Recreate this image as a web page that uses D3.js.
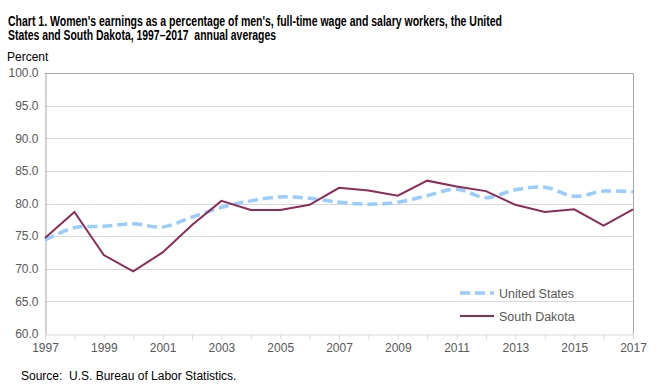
<!DOCTYPE html>
<html>
<head>
<meta charset="utf-8">
<script src="https://cdn.jsdelivr.net/npm/d3@7"></script>
<style>
  body { margin: 0; background: #fff; }
  svg { display: block; font-family: Arial, "Liberation Sans", sans-serif; }
  text { white-space: pre; }
</style>
</head>
<body>
<div id="chart"></div>
<script>
const years = d3.range(1997, 2018);
const unitedStates = [74.4, 76.3, 76.5, 76.9, 76.4, 77.9, 79.4, 80.4, 81.0, 80.8, 80.2,
  79.9, 80.2, 81.2, 82.2, 80.9, 82.1, 82.5, 81.1, 81.9, 81.8];
const southDakota = [74.7, 78.7, 72.1, 69.6, 72.5, 76.7, 80.4, 79.0, 79.0, 79.8, 82.4,
  82.0, 81.2, 83.5, 82.6, 81.9, 79.8, 78.7, 79.1, 76.6, 79.1];
const yTicks = [60, 65, 70, 75, 80, 85, 90, 95, 100];
const xLabels = [1997, 1999, 2001, 2003, 2005, 2007, 2009, 2011, 2013, 2015, 2017];

const width = 664;
const height = 392;
const margin = { top: 73, right: 31, bottom: 58, left: 45 };

const svg = d3.select("#chart").append("svg")
  .attr("width", width)
  .attr("height", height);

// Title: narrow bold face, done by squeezing horizontally
const titleScale = 0.75;
const title = svg.append("text")
  .attr("transform", `translate(8,26) scale(${titleScale},1)`)
  .attr("font-size", 14)
  .attr("font-weight", "bold")
  .attr("fill", "#000");
title.append("tspan").attr("x", 0).attr("y", 0)
  .attr("textLength", 494 / titleScale).attr("lengthAdjust", "spacingAndGlyphs")
  .text("Chart 1. Women's earnings as a percentage of men's, full-time wage and salary workers, the United");
title.append("tspan").attr("x", 0).attr("y", 14.5)
  .attr("textLength", 268 / titleScale).attr("lengthAdjust", "spacingAndGlyphs")
  .text("States and South Dakota, 1997\u20132017  annual averages");

svg.append("text")
  .attr("x", 7)
  .attr("y", 61)
  .attr("font-size", 12)
  .attr("fill", "#000")
  .text("Percent");

// Scales
const x = d3.scaleLinear()
  .domain([1997, 2017])
  .range([margin.left, width - margin.right]);

const y = d3.scaleLinear()
  .domain([60, 100])
  .range([height - margin.bottom, margin.top]);

// Gridlines
svg.append("g")
  .selectAll("line")
  .data(yTicks.slice(1, -1))
  .join("line")
  .attr("x1", margin.left)
  .attr("x2", width - margin.right)
  .attr("y1", d => Math.round(y(d)) + 0.5)
  .attr("y2", d => Math.round(y(d)) + 0.5)
  .attr("stroke", "#d9d9d9");

// Frame (top and right)
svg.append("path")
  .attr("d", `M${margin.left},${Math.round(y(100)) + 0.5}H${Math.round(x(2017)) + 0.5}V${Math.round(y(60))}`)
  .attr("fill", "none")
  .attr("stroke", "#a6a6a6");

// Y axis
const yAxis = svg.append("g")
  .attr("transform", `translate(${margin.left + 0.5},0)`)
  .call(d3.axisLeft(y).tickValues(yTicks).tickFormat(d3.format(".1f")).tickSize(0).tickPadding(7));
yAxis.select(".domain").attr("stroke", "#a6a6a6");
yAxis.selectAll("text").attr("font-size", 12).attr("fill", "#595959")
  .attr("font-family", "Arial, 'Liberation Sans', sans-serif");

// X axis
const xAxis = svg.append("g")
  .attr("transform", `translate(0,${Math.round(y(60)) + 0.5})`)
  .call(d3.axisBottom(x).tickValues(years).tickSize(5).tickPadding(4)
    .tickFormat(d => xLabels.includes(d) ? d : ""));
xAxis.select(".domain").attr("stroke", "#d9d9d9");
xAxis.selectAll(".tick line").attr("stroke", "#d9d9d9");
xAxis.selectAll("text").attr("font-size", 12).attr("fill", "#595959")
  .attr("font-family", "Arial, 'Liberation Sans', sans-serif");

// Lines
const usLine = d3.line()
  .x((d, i) => x(years[i]))
  .y(d => y(d))
  .curve(d3.curveCatmullRom.alpha(0.5));

const sdLine = d3.line()
  .x((d, i) => x(years[i]))
  .y(d => y(d));

svg.append("path")
  .datum(unitedStates)
  .attr("d", usLine)
  .attr("fill", "none")
  .attr("stroke", "#99ccff")
  .attr("stroke-width", 3.5)
  .attr("stroke-dasharray", "10,5");

svg.append("path")
  .datum(southDakota)
  .attr("d", sdLine)
  .attr("fill", "none")
  .attr("stroke", "#8e2b57")
  .attr("stroke-width", 2);

// Legend
const legend = svg.append("g").attr("transform", "translate(460,0)");
legend.append("line")
  .attr("x1", 0).attr("x2", 34).attr("y1", 293).attr("y2", 293)
  .attr("stroke", "#99ccff").attr("stroke-width", 3.5).attr("stroke-dasharray", "10,5");
legend.append("text")
  .attr("x", 39).attr("y", 297.5)
  .attr("font-size", 12.5).attr("fill", "#595959")
  .text("United States");
legend.append("line")
  .attr("x1", 0).attr("x2", 34).attr("y1", 316).attr("y2", 316)
  .attr("stroke", "#8e2b57").attr("stroke-width", 2);
legend.append("text")
  .attr("x", 39).attr("y", 320.5)
  .attr("font-size", 12.5).attr("fill", "#595959")
  .text("South Dakota");

// Source
svg.append("text")
  .attr("x", 21)
  .attr("y", 380)
  .attr("font-size", 12)
  .attr("fill", "#000")
  .text("Source:  U.S. Bureau of Labor Statistics.");
</script>
</body>
</html>
